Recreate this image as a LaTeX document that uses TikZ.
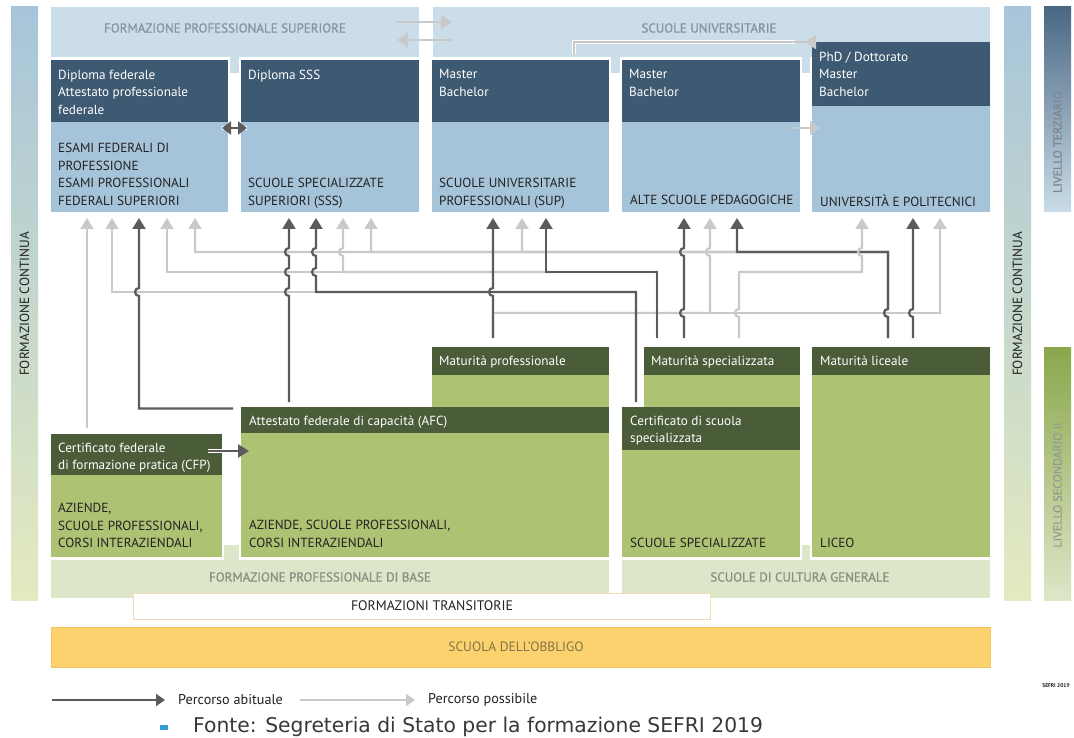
\documentclass[tikz,border=0pt]{standalone}
\usepackage{fontspec}
\setmainfont{PT Sans}
\newfontfamily\dejavu{DejaVu Sans}
\newfontfamily\bandfont[FakeBold=1.0]{PT Sans}
\usetikzlibrary{arrows.meta,calc}
\definecolor{hdrblue}{HTML}{3D5A72}
\definecolor{bodyblue}{HTML}{A6C4D9}
\definecolor{bandblue}{HTML}{CADDE8}
\definecolor{hdrgreen}{HTML}{4A5C38}
\definecolor{bodygreen}{HTML}{ADC273}
\definecolor{bandgreen}{HTML}{DDE6C9}
\definecolor{darkline}{HTML}{5B5B5B}
\definecolor{lightline}{HTML}{C9C9C9}
\definecolor{bandtxtblue}{HTML}{8595A1}
\definecolor{bandtxtgreen}{HTML}{899180}
\definecolor{obbl}{HTML}{FBD26E}
\definecolor{obblborder}{HTML}{F2C35C}
\definecolor{obbltxt}{HTML}{85744A}
\definecolor{transborder}{HTML}{F3D9B5}
\definecolor{fcTop}{HTML}{A7C5DA}
\definecolor{fcMid}{HTML}{CCDACF}
\definecolor{fcBot}{HTML}{E4EABF}
\definecolor{ltTop}{HTML}{4A6884}
\definecolor{ltMid}{HTML}{B3CADC}
\definecolor{ltBot}{HTML}{CADCE9}
\definecolor{lsTop}{HTML}{8AA74C}
\definecolor{lsBot}{HTML}{DEE6C8}
\definecolor{ltTxt}{HTML}{7F888F}
\definecolor{lsTxt}{HTML}{979C8C}
\definecolor{bulletblue}{HTML}{2E9FD8}
\definecolor{txtdark}{HTML}{222222}
\begin{document}
\begin{tikzpicture}[x=1pt,y=-1pt,
  box/.style={anchor=north west, inner sep=0pt, outer sep=0pt, draw=none},
  hdrtxt/.style={anchor=north west, inner sep=0pt, align=left, text=white, font=\fontsize{13.2}{17.5}\selectfont},
  bodytxt/.style={anchor=north west, inner sep=0pt, align=left, text=txtdark, font=\fontsize{13.2}{17.5}\selectfont},
  bandtxt/.style={inner sep=0pt, font=\bandfont\fontsize{13}{15}\selectfont},
  sidetxt/.style={inner sep=0pt, rotate=90, font=\fontsize{13.3}{15}\selectfont},
  darkarr/.style={draw=darkline, line width=2.2pt, -{Triangle[width=13pt,length=11pt]}},
  lightarr/.style={draw=lightline, line width=2.2pt, -{Triangle[width=13pt,length=11pt]}},
  legtxt/.style={anchor=west, inner sep=0pt, text=txtdark, font=\fontsize{14.2}{16}\selectfont},
]
\useasboundingbox (0,0) rectangle (1074,738);
\fill[white] (0,0) rectangle (1074,738);

% ---------- side bars
\shade[top color=fcTop, middle color=fcMid, bottom color=fcBot] (11,7) rectangle (38,600);
\shade[top color=fcTop, middle color=fcMid, bottom color=fcBot] (1004,7) rectangle (1031,600);
\shade[top color=ltTop, middle color=ltMid, bottom color=ltBot] (1044,7) rectangle (1071,212);
\shade[top color=lsTop, bottom color=lsBot] (1044,347) rectangle (1071,600);
\node[sidetxt, text=txtdark] (fcL) at (24.5,304) {FORMAZIONE CONTINUA};
\node[sidetxt, text=txtdark] (fcR) at (1017.5,304) {FORMAZIONE CONTINUA};
\node[sidetxt, text=ltTxt, font=\bandfont\fontsize{12}{14}\selectfont] (lter) at (1057.5,142) {LIVELLO TERZIARIO};
\node[sidetxt, text=lsTxt, font=\bandfont\fontsize{12}{14}\selectfont] (lsec) at (1057.5,485) {LIVELLO SECONDARIO II};

% ---------- top bands
\node[box, fill=bandblue, minimum width=368pt, minimum height=50pt] (fps) at (51,7) {};
\fill[bandblue] (230,56) rectangle (239,73);
\node[box, fill=bandblue, minimum width=557pt, minimum height=50pt] (su) at (433,7) {};
\fill[bandblue] (611,56) rectangle (620,73);
\fill[bandblue] (802,56) rectangle (810,73);
\node[bandtxt, text=bandtxtblue] (fpst) at (225,28) {FORMAZIONE PROFESSIONALE SUPERIORE};
\node[bandtxt, text=bandtxtblue] (sut) at (709,28) {SCUOLE UNIVERSITARIE};

% ---------- tertiary boxes
\node[box, fill=hdrblue, minimum width=177pt, minimum height=62pt] (dipfedh) at (51,60) {};
\node[box, fill=bodyblue, minimum width=177pt, minimum height=90pt] (dipfedb) at (51,122) {};
\node[box, fill=hdrblue, minimum width=178pt, minimum height=62pt] (dipsssh) at (241,60) {};
\node[box, fill=bodyblue, minimum width=178pt, minimum height=90pt] (dipsssb) at (241,122) {};
\node[box, fill=hdrblue, minimum width=177pt, minimum height=62pt] (suph) at (432,60) {};
\node[box, fill=bodyblue, minimum width=177pt, minimum height=90pt] (supb) at (432,122) {};
\node[box, fill=hdrblue, minimum width=178pt, minimum height=62pt] (asph) at (622,60) {};
\node[box, fill=bodyblue, minimum width=178pt, minimum height=90pt] (aspb) at (622,122) {};
\node[box, fill=hdrblue, minimum width=178pt, minimum height=64pt] (unih) at (812,42) {};
\node[box, fill=bodyblue, minimum width=178pt, minimum height=106pt] (unib) at (812,106) {};

\node[hdrtxt] (dipfedt) at (58,69.5) {Diploma federale\\Attestato professionale\\federale};
\node[hdrtxt] (dipssst) at (248,69.5) {Diploma SSS};
\node[hdrtxt] (supt) at (439,69.5) {Master\\Bachelor};
\node[hdrtxt] (aspt) at (629,69.5) {Master\\Bachelor};
\node[hdrtxt] (unit) at (819,51.5) {PhD / Dottorato\\Master\\Bachelor};
\node[bodytxt] (dipfedbt) at (58,143) {ESAMI FEDERALI DI\\PROFESSIONE\\ESAMI PROFESSIONALI\\FEDERALI SUPERIORI};
\node[bodytxt] (dipsssbt) at (248,178) {SCUOLE SPECIALIZZATE\\SUPERIORI (SSS)};
\node[bodytxt] (supbt) at (439,178) {SCUOLE UNIVERSITARIE\\PROFESSIONALI (SUP)};
\node[bodytxt] (aspbt) at (630,194.5) {ALTE SCUOLE PEDAGOGICHE};
\node[bodytxt] (unibt) at (820,194.5) {UNIVERSITÀ E POLITECNICI};

% ---------- secondary boxes
\node[box, fill=hdrgreen, minimum width=177pt, minimum height=28pt] (matprofh) at (432,347) {};
\node[box, fill=bodygreen, minimum width=177pt, minimum height=32pt] (matprofb) at (432,375) {};
\node[box, fill=hdrgreen, minimum width=156pt, minimum height=28pt] (matspech) at (644,347) {};
\node[box, fill=bodygreen, minimum width=156pt, minimum height=32pt] (matspecb) at (644,375) {};
\node[box, fill=hdrgreen, minimum width=178pt, minimum height=28pt] (matlich) at (812,347) {};
\node[box, fill=bodygreen, minimum width=178pt, minimum height=182pt] (matlicb) at (812,375) {};
\node[box, fill=hdrgreen, minimum width=368pt, minimum height=26pt] (afch) at (241,407) {};
\node[box, fill=bodygreen, minimum width=368pt, minimum height=124pt] (afcb) at (241,433) {};
\node[box, fill=hdrgreen, minimum width=178pt, minimum height=43pt] (certh) at (622,407) {};
\node[box, fill=bodygreen, minimum width=178pt, minimum height=107pt] (certb) at (622,450) {};
\node[box, fill=hdrgreen, minimum width=171pt, minimum height=41pt] (cfph) at (51,434) {};
\node[box, fill=bodygreen, minimum width=171pt, minimum height=82pt] (cfpb) at (51,475) {};

\node[hdrtxt] (matproft) at (439,355.5) {Maturità professionale};
\node[hdrtxt] (matspect) at (651,355.5) {Maturità specializzata};
\node[hdrtxt] (matlict) at (820,355.5) {Maturità liceale};
\node[hdrtxt] (afct) at (249,415.5) {Attestato federale di capacità (AFC)};
\node[hdrtxt] (certt) at (630,415.5) {Certificato di scuola\\specializzata};
\node[hdrtxt] (cfpt) at (58,442.5) {Certificato federale\\di formazione pratica (CFP)};
\node[bodytxt] (cfpbt) at (58,503) {AZIENDE,\\SCUOLE PROFESSIONALI,\\CORSI INTERAZIENDALI};
\node[bodytxt] (afcbt) at (249,520) {AZIENDE, SCUOLE PROFESSIONALI,\\CORSI INTERAZIENDALI};
\node[bodytxt] (certbt) at (630,538) {SCUOLE SPECIALIZZATE};
\node[bodytxt] (matlicbt) at (820,538) {LICEO};

% ---------- bottom bands
\node[box, fill=bandgreen, minimum width=558pt, minimum height=38pt] (fpb) at (51,560) {};
\fill[bandgreen] (224,545) rectangle (239,561);
\node[box, fill=bandgreen, minimum width=368pt, minimum height=38pt] (scg) at (622,560) {};
\fill[bandgreen] (802,545) rectangle (810,561);
\node[bandtxt, text=bandtxtgreen] (fpbt) at (320,577) {FORMAZIONE PROFESSIONALE DI BASE};
\node[bandtxt, text=bandtxtgreen] (scgt) at (800,577) {SCUOLE DI CULTURA GENERALE};
\node[box, fill=white, draw=transborder, line width=0.8pt, minimum width=577pt, minimum height=26pt] (trans) at (133,593) {};
\node[inner sep=0pt, text=txtdark, font=\fontsize{13.8}{15}\selectfont] (transt) at (432,606) {FORMAZIONI TRANSITORIE};
\node[box, fill=obbl, draw=obblborder, line width=0.8pt, minimum width=939pt, minimum height=40pt] (obb) at (51,627) {};
\node[inner sep=0pt, text=obbltxt, font=\fontsize{13.5}{15}\selectfont] (obbt) at (516,647) {SCUOLA DELL'OBBLIGO};

% ---------- arrows inside the top area
\draw[lightarr, line width=2.4pt, -{Triangle[width=14pt,length=11pt]}] ($(fps.east |- 0,22)+(-22,0)$) -- ($(su.west |- 0,22)+(19,0)$);
\draw[lightarr, line width=2.4pt, -{Triangle[width=14pt,length=11pt]}] ($(su.west |- 0,40)+(19,0)$) -- ($(fps.east |- 0,40)+(-22,0)$);
\draw[white, line width=4.6pt] (suph.north -| 574,0) ++(0,-6) |- (795,42);
\draw[lightarr, line width=2.4pt, shorten <=6pt, -{Triangle[width=14pt,length=11pt]}] (suph.north -| 574,0) |- (unih.west |- 0,42) -- ($(unih.west |- 0,42)+(-7,0)$);
\draw[white, line width=4.6pt] ($(dipfedb.east |- 0,128)+(-6,0)$) -- ($(dipsssb.west |- 0,128)+(6,0)$);
\draw[darkline, line width=2.4pt, {Triangle[width=13pt,length=9pt]}-{Triangle[width=13pt,length=9pt]}] ($(dipfedb.east |- 0,128)+(-6,0)$) -- ($(dipsssb.west |- 0,128)+(6,0)$);
\draw[lightarr, line width=2.4pt, -{Triangle[width=14pt,length=10pt]}] ($(aspb.east |- 0,128)+(-7,0)$) -- ($(unib.west |- 0,128)+(8,0)$);
\draw[white, line width=4.6pt] ($(cfph.east |- 0,451)+(-14,0)$) -- ($(afcb.west |- 0,451)+(2,0)$);
\draw[darkarr, line width=2.4pt] ($(cfph.east |- 0,451)+(-14,0)$) -- ($(afcb.west |- 0,451)+(8,0)$);

% ---------- possible paths (light)
\draw[lightarr, shorten <=6pt, shorten >=6pt] (cfph.north -| 87,0) -- (dipfedb.south -| 87,0);
\draw[lightarr, shorten <=5pt, shorten >=6pt] (certh.north -| 636,0) -- (636,292) -- (112,292) -- (dipfedb.south -| 112,0);
\draw[lightarr, shorten <=9pt, shorten >=6pt] (matspech.north -| 657,0) -- (657,272) -- (167,272) -- (dipfedb.south -| 167,0);
\draw[lightarr, shorten <=9pt, shorten >=6pt] (matspech.north -| 657,0) -- (657,272) -- (343,272) -- (343,256) arc(90:270:4) -- (dipsssb.south -| 343,0);
\draw[lightarr, shorten <=9pt, shorten >=6pt] (matlich.north -| 888,0) -- (888,317) arc(90:270:4) -- (888,252) -- (195,252) -- (dipfedb.south -| 195,0);
\draw[lightarr, shorten <=9pt, shorten >=6pt] (matlich.north -| 888,0) -- (888,317) arc(90:270:4) -- (888,252) -- (371,252) -- (dipsssb.south -| 371,0);
\draw[lightarr, shorten <=9pt, shorten >=6pt] (matlich.north -| 888,0) -- (888,317) arc(90:270:4) -- (888,252) -- (522,252) -- (supb.south -| 522,0);
\draw[lightarr, shorten <=9pt, shorten >=6pt] (matprofh.north -| 493,0) -- (493,313) -- (710,313) -- (710,256) arc(90:270:4) -- (aspb.south -| 710,0);
\draw[lightarr, shorten <=9pt, shorten >=6pt] (matprofh.north -| 493,0) -- (493,313) -- (940,313) -- (unib.south -| 940,0);

% ---------- usual paths (dark)
\draw[darkarr, shorten <=8pt, shorten >=6pt] ([yshift=-1.5pt]afch.north west) -- (139,408.5) -- (139,296) arc(90:270:4) -- (dipfedb.south -| 139,0);
\draw[darkarr, shorten <=5pt, shorten >=6pt] (afch.north -| 289,0) -- (289,296) arc(90:270:4) -- (289,276) arc(90:270:4) -- (289,256) arc(90:270:4) -- (dipsssb.south -| 289,0);
\draw[darkarr, shorten <=5pt, shorten >=6pt] (certh.north -| 636,0) -- (636,292) -- (316,292) -- (316,276) arc(90:270:4) -- (316,256) arc(90:270:4) -- (dipsssb.south -| 316,0);
\draw[darkarr, shorten <=9pt, shorten >=6pt] (matprofh.north -| 493,0) -- (493,296) arc(90:270:4) -- (supb.south -| 493,0);
\draw[darkarr, shorten <=9pt, shorten >=6pt] (matspech.north -| 657,0) -- (657,272) -- (546,272) -- (supb.south -| 546,0);
\draw[darkarr, shorten <=9pt, shorten >=6pt] (matspech.north -| 684,0) -- (684,317) arc(90:270:4) -- (684,256) arc(90:270:4) -- (aspb.south -| 684,0);
\draw[darkarr, shorten <=9pt, shorten >=6pt] (matlich.north -| 888,0) -- (888,317) arc(90:270:4) -- (888,252) -- (737,252) -- (aspb.south -| 737,0);
\draw[darkarr, shorten <=9pt, shorten >=6pt] (matlich.north -| 913,0) -- (913,317) arc(90:270:4) -- (unib.south -| 913,0);
% light path drawn last so its hop over the dark line shows
\draw[lightarr, shorten <=9pt, shorten >=6pt] (matspech.north -| 739,0) -- (739,317) arc(90:270:4) -- (739,272) -- (862,272) -- (862,256) arc(90:270:4) -- (unib.south -| 862,0);

% ---------- legend
\node[inner sep=0pt, text=txtdark, font=\bfseries\fontsize{5.5}{6}\selectfont] (sefri) at (1056,686) {SEFRI 2019};
\coordinate (lg1s) at (52,700);
\coordinate (lg1e) at (165,700);
\coordinate (lg2s) at (300,700);
\coordinate (lg2e) at (415,700);
\draw[darkarr, line width=2pt, -{Triangle[width=12pt,length=9pt]}] (lg1s) -- (lg1e);
\node[legtxt] (lg1t) at (178,700) {Percorso abituale};
\draw[lightarr, line width=2pt, -{Triangle[width=12pt,length=9pt]}] (lg2s) -- (lg2e);
\node[legtxt] (lg2t) at (428,700) {Percorso possibile};
\fill[bulletblue] (160,725) rectangle (168,729.5);
\node[anchor=west, inner sep=0pt, text=txtdark!90, font=\dejavu\fontsize{20.3}{23}\selectfont] (fonte) at (193,727) {Fonte: Segreteria di Stato per la formazione SEFRI 2019};
\end{tikzpicture}
\end{document}
